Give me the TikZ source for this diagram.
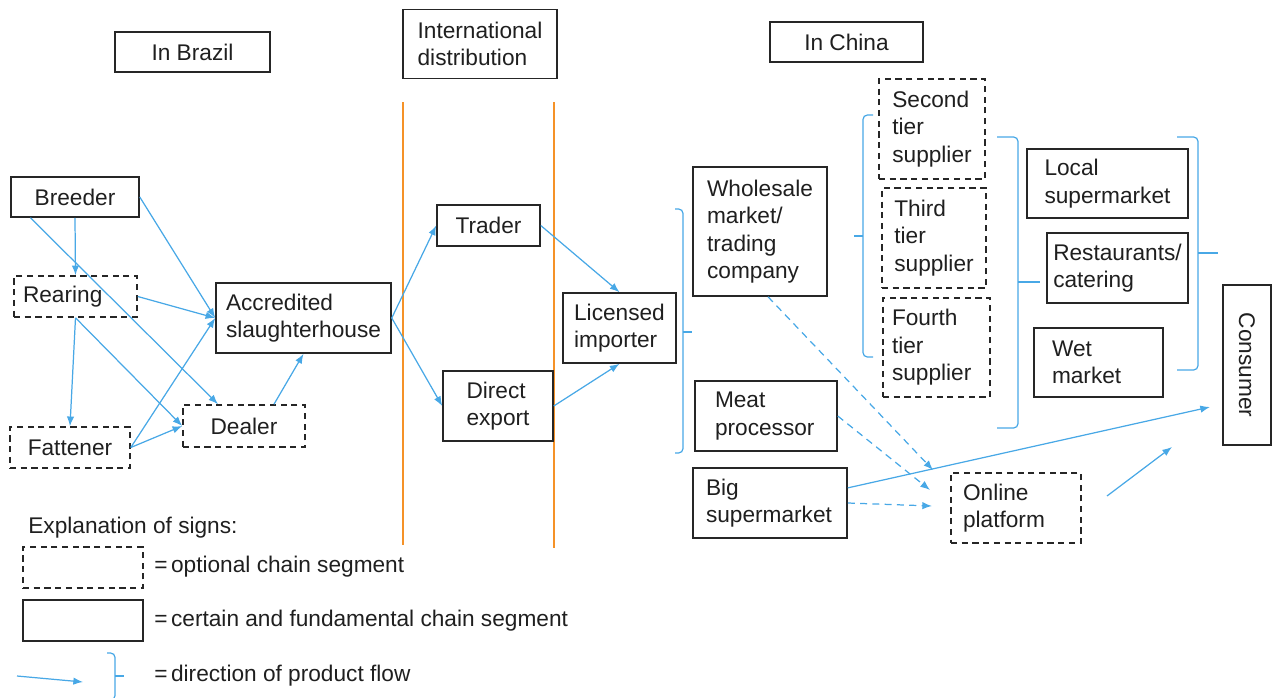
\documentclass[tikz,border=0pt]{standalone}
\usepackage{fontspec}
\setmainfont{Liberation Sans}
\usepackage{tikz}
\usetikzlibrary{arrows.meta}
\definecolor{flowblue}{RGB}{72,168,230}
\definecolor{borderorange}{RGB}{245,146,40}

\begin{document}
\begin{tikzpicture}[x=0.02cm, y=-0.02cm, >={Latex[length=5.5pt,width=4.2pt]},
  every node/.style={font=\fontsize{12.9}{15.6}\selectfont, text=black!88},
  seg/.style={draw=black!85, line width=0.9pt, align=left, inner sep=2pt},
  optseg/.style={seg, dash pattern=on 3.5pt off 2.6pt},
  flow/.style={->, draw=flowblue, line width=0.7pt},
  optflow/.style={flow, dash pattern=on 4pt off 3pt},
  border/.style={draw=borderorange, line width=0.8pt},
  bracket/.style={draw=flowblue, line width=0.7pt, rounded corners=2.5pt}]
  \useasboundingbox (0,0) rectangle (1272,697);
  % Overskrifter
  \node[seg, minimum width=3.1cm, minimum height=0.8cm] (brazil) at (192.5,52) {In Brazil};
  \node[seg, minimum width=3.08cm, minimum height=1.38cm] (intl) at (480,44) {International\\distribution};
  \node[seg, minimum width=3.06cm, minimum height=0.8cm] (china) at (846.5,42) {In China};
  % Grenser for internasjonal distribusjon
  \draw[border] (403,102) -- (403,545);
  \draw[border] (554,102) -- (554,548);
  % Brasil
  \node[seg, minimum width=2.56cm, minimum height=0.8cm] (breeder) at (75,197) {Breeder};
  \node[optseg, minimum width=2.46cm, minimum height=0.82cm, text width=2.1cm] (rearing) at (75.5,296.5) {Rearing};
  \node[optseg, minimum width=2.4cm, minimum height=0.82cm] (fattener) at (70,447.5) {Fattener};
  \node[optseg, minimum width=2.44cm, minimum height=0.84cm] (dealer) at (244,426) {Dealer};
  \node[seg, minimum width=3.5cm, minimum height=1.4cm] (slaughter) at (303.5,318) {Accredited\\slaughterhouse};
  % Internasjonal distribusjon
  \node[seg, minimum width=2.06cm, minimum height=0.82cm] (trader) at (488.5,225.5) {Trader};
  \node[seg, minimum width=2.2cm, minimum height=1.4cm] (direct) at (498,406) {Direct\\export};
  % Kina
  \node[seg, minimum width=2.26cm, minimum height=1.4cm] (importer) at (619.5,328) {Licensed\\importer};
  \node[seg, minimum width=2.68cm, minimum height=2.58cm] (wholesale) at (760,231.5) {Wholesale\\market/\\trading\\company};
  \node[seg, minimum width=2.84cm, minimum height=1.4cm, text width=2.04cm] (processor) at (766,416) {Meat\\processor};
  \node[seg, minimum width=3.08cm, minimum height=1.4cm, text width=2.56cm] (bigsuper) at (770,503) {Big\\supermarket};
  \node[optseg, minimum width=2.12cm, minimum height=2.0cm] (second) at (932,129) {Second\\tier\\supplier};
  \node[optseg, minimum width=2.08cm, minimum height=2.0cm] (third) at (934,238) {Third\\tier\\supplier};
  \node[optseg, minimum width=2.14cm, minimum height=1.98cm, text width=1.78cm] (fourth) at (936.5,347.5) {Fourth\\tier\\supplier};
  \node[seg, minimum width=3.22cm, minimum height=1.38cm] (local) at (1107.5,183.5) {Local\\supermarket};
  \node[seg, minimum width=2.82cm, minimum height=1.4cm] (restaurants) at (1117.5,268) {Restaurants/\\catering};
  \node[seg, minimum width=2.58cm, minimum height=1.38cm, text width=1.86cm] (wet) at (1098.5,362.5) {Wet\\market};
  \node[seg, rotate=-90, minimum width=3.2cm, minimum height=0.96cm] (consumer) at (1247,365) {Consumer};
  \node[optseg, minimum width=2.6cm, minimum height=1.4cm, text width=2.12cm] (online) at (1016,508) {Online\\platform};
  % Frie endepunkter
  \coordinate (webA) at (933,470);
  \coordinate (webB) at (930,490);
  \coordinate (webC) at (932,506);
  \coordinate (webout) at (1107,496);
  \coordinate (consA) at (1210,407);
  \coordinate (consB) at (1172,447);
  % Produktflyt i Brasil
  \draw[flow] (breeder.south) -- (rearing.north);
  \draw[flow] (breeder.205) -- (dealer.140);
  \draw[flow] (breeder.east) -- (slaughter.west);
  \draw[flow] (rearing.east) -- (slaughter.west);
  \draw[flow] (rearing.south) -- (fattener.north);
  \draw[flow] (rearing.south) -- (dealer.west);
  \draw[flow] (fattener.east) -- (slaughter.west);
  \draw[flow] (fattener.east) -- (dealer.west);
  \draw[flow] (dealer.36) -- (slaughter.south);
  % Eksport
  \draw[flow] (slaughter.east) -- (trader.west);
  \draw[flow] (slaughter.east) -- (direct.west);
  \draw[flow] (trader.east) -- (importer.north);
  \draw[flow] (direct.east) -- (importer.south);
  % Produktflyt i Kina
  \draw[optflow] (wholesale.-83) -- (webA);
  \draw[optflow] (processor.east) -- (webB);
  \draw[optflow] (bigsuper.east) -- (webC);
  \draw[flow] (bigsuper.11) -- (consA);
  \draw[flow] (webout) -- (consB);
  % Klammer
  \draw[bracket] (675,209) -- (683,209) -- (683,453) -- (675,453);
  \draw[flowblue, line width=0.7pt] (683,332) -- (692,332);
  \draw[bracket] (873,115) -- (863,115) -- (863,357) -- (873,357);
  \draw[flowblue, line width=0.7pt] (863,236) -- (854,236);
  \draw[bracket] (997,137) -- (1018,137) -- (1018,428) -- (997,428);
  \draw[flowblue, line width=0.7pt] (1018,282) -- (1040,282);
  \draw[bracket] (1177,137) -- (1198,137) -- (1198,370) -- (1177,370);
  \draw[flowblue, line width=0.7pt] (1198,253) -- (1218,253);
  % Tegnforklaring
  \node[anchor=west, inner sep=0pt] (signs) at (28,528) {Explanation of signs:};
  \node[optseg, minimum width=2.4cm, minimum height=0.82cm] (optkey) at (83,567.5) {};
  \node[seg, minimum width=2.4cm, minimum height=0.82cm] (certkey) at (83,620.5) {};
  \node[anchor=west, inner sep=0pt] (optlabel) at (154,567) {=\hspace{2pt}optional chain segment};
  \node[anchor=west, inner sep=0pt] (certlabel) at (154,621) {=\hspace{2pt}certain and fundamental chain segment};
  \node[anchor=west, inner sep=0pt] (flowlabel) at (154,676) {=\hspace{2pt}direction of product flow};
  \coordinate (keyA) at (17,676);
  \coordinate (keyB) at (83,682);
  \draw[flow] (keyA) -- (keyB);
  \draw[bracket] (107,653) -- (115,653) -- (115,700) -- (107,700);
  \draw[flowblue, line width=0.7pt] (115,676) -- (124,676);
\end{tikzpicture}
\end{document}
